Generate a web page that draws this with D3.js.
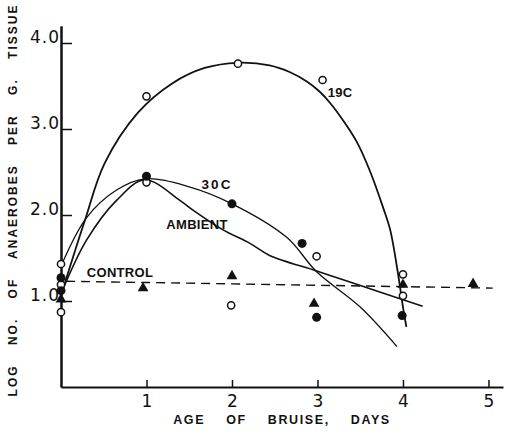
<!DOCTYPE html>
<html>
<head>
<meta charset="utf-8">
<script src="https://cdn.jsdelivr.net/npm/d3@7"></script>
<style>
  html, body { margin: 0; padding: 0; background: #fff; }
  svg { display: block; }
  .tick text { font-family: "DejaVu Sans", sans-serif; font-size: 17px; fill: #111; }
  .lbl { font-family: "Liberation Sans", Arial, sans-serif; font-weight: bold; fill: #111; }
</style>
</head>
<body>
<div id="chart"></div>
<script>
// ── data (x = age of bruise in days, y = log count) ──
const yTicks = [1, 2, 3, 4];
const xTicks = [1, 2, 3, 4, 5];

// open circles (19C)
const openX = [0, 0, 0, 1, 1, 2.07, 1.99, 3.06, 2.99, 4.0, 4.0];
const openY = [1.43, 1.19, 0.87, 3.38, 2.38, 3.76, 0.95, 3.57, 1.52, 1.31, 1.06];

// filled circles (30C)
const filledX = [0, 0, 1, 2, 2.82, 2.99, 3.99];
const filledY = [1.27, 1.12, 2.45, 2.13, 1.67, 0.81, 0.83];

// triangles (control)
const triX = [0, 0.96, 2.0, 2.96, 4.0, 4.82];
const triY = [1.02, 1.15, 1.29, 0.97, 1.19, 1.2];

// hand-drawn fitted curves
const c19X = [0.02, 0.28, 0.51, 0.90, 1.30, 1.68, 2.07, 2.44, 2.68, 2.88, 3.03, 3.15, 3.30, 3.46, 3.61, 3.77, 3.85, 3.94, 4.0, 4.04];
const c19Y = [1.13, 1.94, 2.60, 3.19, 3.53, 3.71, 3.77, 3.74, 3.66, 3.55, 3.43, 3.30, 3.10, 2.85, 2.52, 2.08, 1.83, 1.33, 0.93, 0.70];

const c30X = [0.02, 0.30, 0.65, 0.98, 1.49, 2.0, 2.64, 2.99, 3.50, 3.93];
const c30Y = [1.45, 1.97, 2.29, 2.42, 2.33, 2.13, 1.74, 1.34, 0.93, 0.47];

const ambX = [0.02, 0.30, 0.65, 0.98, 1.39, 1.54, 1.89, 2.21, 2.44, 2.99, 3.38, 4.23];
const ambY = [1.13, 1.71, 2.17, 2.41, 2.17, 2.06, 1.83, 1.67, 1.53, 1.35, 1.22, 0.94];

// dashed control level
const ctrlX = [0.06, 5.05];
const ctrlY = [1.23, 1.15];

const width = 505, height = 435;

const svg = d3.select('#chart').append('svg')
  .attr('width', width)
  .attr('height', height);

const x = d3.scaleLinear().domain([0, 5.17]).range([61, 503]);
const y = d3.scaleLinear().domain([0, 4.2]).range([387, 25.8]);

const zip = (xs, ys) => xs.map((v, i) => [v, ys[i]]);

// axes
const yAxis = svg.append('g')
  .attr('transform', `translate(${x(0)},0)`)
  .call(d3.axisLeft(y).tickValues(yTicks).tickFormat(d3.format('.1f'))
    .tickSizeInner(-11).tickSizeOuter(0).tickPadding(1));
yAxis.select('.domain').attr('stroke', '#111').attr('stroke-width', 2.5);
yAxis.selectAll('.tick line').attr('stroke', '#111').attr('stroke-width', 1.5);
yAxis.selectAll('.tick text').attr('dy', '-0.02em').attr('letter-spacing', 1);

const xAxis = svg.append('g')
  .attr('transform', `translate(0,${y(0)})`)
  .call(d3.axisBottom(x).tickValues(xTicks).tickFormat(d3.format('d'))
    .tickSizeInner(-7).tickSizeOuter(0).tickPadding(8));
xAxis.select('.domain').attr('stroke', '#111').attr('stroke-width', 2);
xAxis.selectAll('.tick line').attr('stroke', '#111').attr('stroke-width', 1.5);

// axis titles
svg.append('text').attr('class', 'lbl')
  .attr('x', 282).attr('y', 424)
  .attr('text-anchor', 'middle')
  .attr('font-size', 12.5)
  .attr('letter-spacing', 1.6)
  .attr('word-spacing', 16)
  .text('AGE OF BRUISE, DAYS');

svg.append('text').attr('class', 'lbl')
  .attr('transform', 'translate(17,200) rotate(-90)')
  .attr('text-anchor', 'middle')
  .attr('font-size', 12)
  .attr('letter-spacing', 2)
  .attr('word-spacing', 14)
  .text('LOG NO. OF ANAEROBES PER G. TISSUE');

// control dashed line
const line = d3.line().x(d => x(d[0])).y(d => y(d[1]));
svg.append('path')
  .datum(zip(ctrlX, ctrlY))
  .attr('d', line)
  .attr('fill', 'none')
  .attr('stroke', '#111')
  .attr('stroke-width', 1.4)
  .attr('stroke-dasharray', '9,6');

// curves
const smooth = d3.line().x(d => x(d[0])).y(d => y(d[1])).curve(d3.curveCatmullRom.alpha(0.5));
const curves = [
  { pts: zip(c19X, c19Y), w: 1.8 },
  { pts: zip(c30X, c30Y), w: 1.3 },
  { pts: zip(ambX, ambY), w: 1.6 }
];
svg.append('g').selectAll('path')
  .data(curves)
  .join('path')
  .attr('d', d => smooth(d.pts))
  .attr('fill', 'none')
  .attr('stroke', '#111')
  .attr('stroke-width', d => d.w);

// markers
svg.append('g').selectAll('circle')
  .data(zip(openX, openY))
  .join('circle')
  .attr('cx', d => x(d[0]))
  .attr('cy', d => y(d[1]))
  .attr('r', 3.6)
  .attr('fill', '#fff')
  .attr('stroke', '#111')
  .attr('stroke-width', 1.5);

svg.append('g').selectAll('circle')
  .data(zip(filledX, filledY))
  .join('circle')
  .attr('cx', d => x(d[0]))
  .attr('cy', d => y(d[1]))
  .attr('r', 4.5)
  .attr('fill', '#111');

const tri = d3.symbol().type(d3.symbolTriangle).size(50);
svg.append('g').selectAll('path')
  .data(zip(triX, triY))
  .join('path')
  .attr('transform', d => `translate(${x(d[0])},${y(d[1])})`)
  .attr('d', tri)
  .attr('fill', '#111');

// series labels
const labels = [
  { t: '19C', x: 340, y: 97, s: 13 },
  { t: '30C', x: 217, y: 189, s: 13.5 },
  { t: 'AMBIENT', x: 197, y: 229, s: 13 },
  { t: 'CONTROL', x: 120, y: 277, s: 13 }
];
svg.append('g').selectAll('text')
  .data(labels)
  .join('text')
  .attr('class', 'lbl')
  .attr('x', d => d.x)
  .attr('y', d => d.y)
  .attr('text-anchor', 'middle')
  .attr('font-size', d => d.s)
  .attr('letter-spacing', d => d.t === '30C' ? 2 : 0.3)
  .text(d => d.t);
</script>
</body>
</html>
